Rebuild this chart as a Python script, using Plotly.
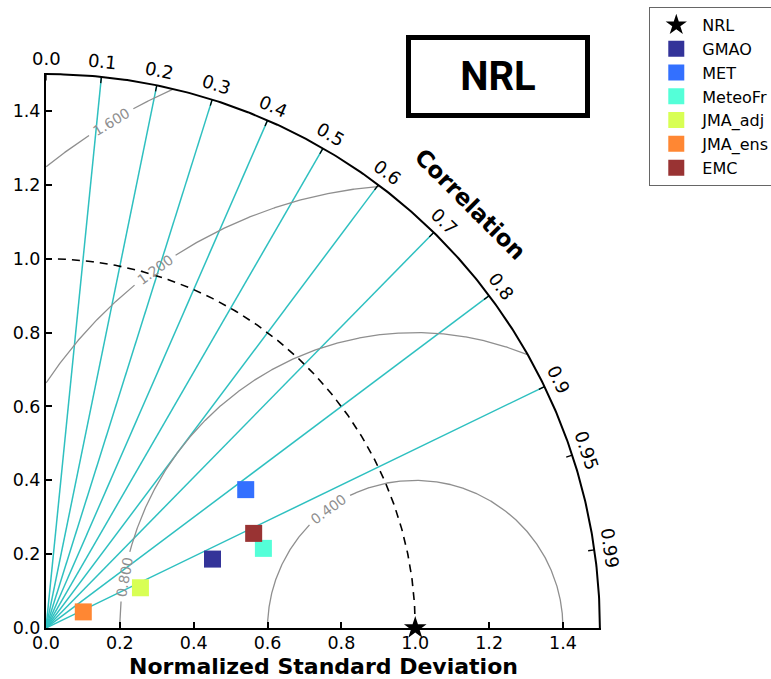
import numpy as np
import plotly.graph_objects as go

# ---------------- data ----------------
ref_name = "NRL"
ref_std = 1.0
models = ["GMAO", "MET", "MeteoFr", "JMA_adj", "JMA_ens", "EMC"]
model_std = [0.488, 0.658, 0.627, 0.278, 0.110, 0.618]
model_corr = [0.924, 0.822, 0.939, 0.920, 0.918, 0.910]
model_colors = ["#333399", "#3370ff", "#54ffd8", "#d8ff54", "#ff8733", "#993333"]

corr_ticks = [0.0, 0.1, 0.2, 0.3, 0.4, 0.5, 0.6, 0.7, 0.8, 0.9, 0.95, 0.99]
corr_ticklabels = ["0.0", "0.1", "0.2", "0.3", "0.4", "0.5", "0.6", "0.7", "0.8", "0.9", "0.95", "0.99"]
corr_lines = [0.1, 0.2, 0.3, 0.4, 0.5, 0.6, 0.7, 0.8, 0.9]
std_ticks = [0.0, 0.2, 0.4, 0.6, 0.8, 1.0, 1.2, 1.4]
std_ticklabels = ["0.0", "0.2", "0.4", "0.6", "0.8", "1.0", "1.2", "1.4"]
rms_levels = [0.4, 0.8, 1.2, 1.6]
rms_labels = ["0.400", "0.800", "1.200", "1.600"]
rms_label_angle = [126, 170, 126, 121]  # degrees around the reference point
max_std = 1.5
AX_MAX = 1.503  # axis range upper limit (same for x and y)

CYAN = "#2ec0c0"
GREY = "#8f8f8f"
FONT = "DejaVu Sans"


def to_paper(x, y):
    # map data coordinates to paper fractions via the axis range [0, AX_MAX]
    return x / AX_MAX, y / AX_MAX


fig = go.Figure()

# correlation rays
xs, ys = [], []
for c in corr_lines:
    t = np.arccos(c)
    xs += [0, max_std * np.cos(t), None]
    ys += [0, max_std * np.sin(t), None]
fig.add_trace(go.Scatter(x=xs, y=ys, mode="lines", line=dict(color=CYAN, width=1.5),
                         showlegend=False, hoverinfo="skip"))

# RMS contours around the reference point, with gaps for inline labels
annotations = []
for lev, lab, ang in zip(rms_levels, rms_labels, rms_label_angle):
    phi = np.linspace(0, np.pi, 1400)
    px = ref_std + lev * np.cos(phi)
    py = lev * np.sin(phi)
    gap = 25.0 / (lev * 369.0)
    ok = (px >= 0) & (px ** 2 + py ** 2 <= max_std ** 2) & (np.abs(phi - np.radians(ang)) > gap)
    X = np.where(ok, px, np.nan)
    Y = np.where(ok, py, np.nan)
    fig.add_trace(go.Scatter(x=X, y=Y, mode="lines", line=dict(color=GREY, width=1.3),
                             connectgaps=False, showlegend=False, hoverinfo="skip"))
    a = np.radians(ang)
    annotations.append(dict(x=ref_std + lev * np.cos(a), y=lev * np.sin(a), xref="x", yref="y",
                            text=lab, showarrow=False, textangle=90 - ang,
                            font=dict(family=FONT, size=14, color=GREY)))

# reference std dashed arc
th = np.linspace(0, np.pi / 2, 300)
fig.add_trace(go.Scatter(x=ref_std * np.cos(th), y=ref_std * np.sin(th), mode="lines",
                         line=dict(color="black", width=1.6, dash="8px,6px"),
                         showlegend=False, hoverinfo="skip"))

# outer arc
fig.add_trace(go.Scatter(x=max_std * np.cos(th), y=max_std * np.sin(th), mode="lines",
                         line=dict(color="black", width=2),
                         showlegend=False, hoverinfo="skip"))

# arc ticks
tx, ty = [], []
for c in corr_ticks:
    t = np.arccos(c)
    tx += [max_std * np.cos(t), (max_std - 0.017) * np.cos(t), None]
    ty += [max_std * np.sin(t), (max_std - 0.017) * np.sin(t), None]
fig.add_trace(go.Scatter(x=tx, y=ty, mode="lines", line=dict(color="black", width=1.3),
                         showlegend=False, hoverinfo="skip"))

# reference point
fig.add_trace(go.Scatter(x=[ref_std], y=[0.0], mode="markers", name=ref_name,
                         marker=dict(symbol="star", size=17, color="black"),
                         cliponaxis=False))

# models
for name, s, c, col in zip(models, model_std, model_corr, model_colors):
    t = np.arccos(c)
    fig.add_trace(go.Scatter(x=[s * np.cos(t)], y=[s * np.sin(t)], mode="markers", name=name,
                             marker=dict(symbol="square", size=17, color=col, line=dict(width=0)),
                             cliponaxis=False))

# correlation tick labels (outside the plot area -> paper coordinates)
for c, lab in zip(corr_ticks, corr_ticklabels):
    t = np.arccos(c)
    r = 1.542
    px, py = to_paper(r * np.cos(t), r * np.sin(t))
    annotations.append(dict(x=px, y=py, xref="paper", yref="paper", text=lab,
                            xanchor="center", yanchor="middle",
                            showarrow=False, textangle=90 - np.degrees(t),
                            font=dict(family=FONT, size=18, color="black")))

# "Correlation" axis label
ca = np.radians(45)
px, py = to_paper(1.625 * np.cos(ca), 1.625 * np.sin(ca))
annotations.append(dict(x=px, y=py, xref="paper", yref="paper", xanchor="center", yanchor="middle",
                        text="<b>Correlation</b>", showarrow=False, textangle=45,
                        font=dict(family=FONT, size=23, color="black")))

# NRL box
annotations.append(dict(x=0.815, y=0.994, xref="paper", yref="paper", xanchor="center", yanchor="middle",
                        text="<b>NRL</b>",
                        showarrow=False, font=dict(family="Roboto", size=40, color="black"),
                        bordercolor="black", borderwidth=5, borderpad=0,
                        width=174, height=73, bgcolor="white"))

axis_common = dict(range=[0, AX_MAX], showgrid=False, zeroline=False, showline=True,
                   linecolor="black", linewidth=2, ticks="inside", ticklen=6, tickwidth=1.5,
                   tickcolor="black", tickvals=std_ticks, ticktext=std_ticklabels,
                   tickfont=dict(family=FONT, size=17.5, color="black"), mirror=False)

fig.update_layout(
    width=771, height=679,
    margin=dict(l=46, r=170, t=73, b=51, autoexpand=False),
    paper_bgcolor="white", plot_bgcolor="white",
    xaxis=dict(**axis_common, ticklabelstandoff=-2,
               title=dict(text="<b>Normalized Standard Deviation</b>", standoff=11,
                          font=dict(family=FONT, size=22, color="black"))),
    yaxis=dict(**axis_common),
    legend=dict(x=1.087, y=1.119, xanchor="left", yanchor="top", bordercolor="#666666",
                borderwidth=1, bgcolor="white", font=dict(family=FONT, size=16, color="black"),
                tracegroupgap=0, itemwidth=42),
    annotations=annotations,
    showlegend=True,
)

fig.write_html("out.html")
